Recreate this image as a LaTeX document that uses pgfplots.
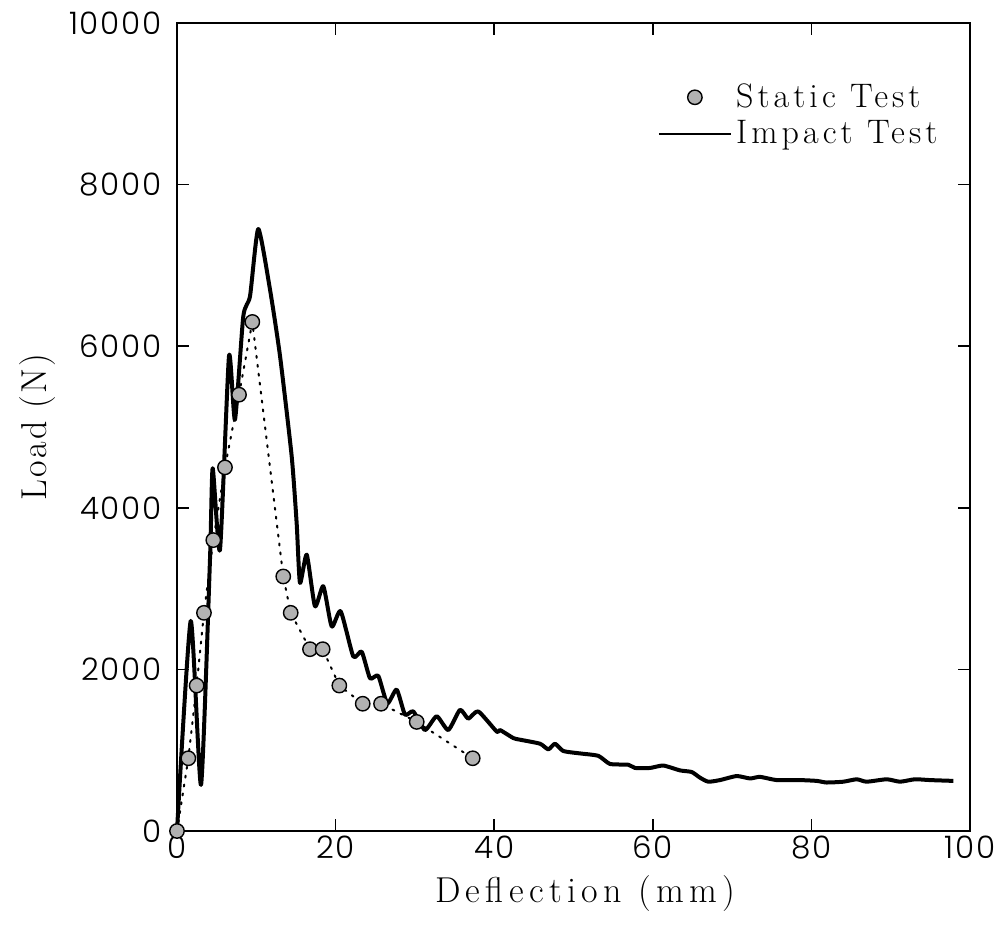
\documentclass[border=0pt]{standalone}
\usepackage{fontspec}
\usepackage{pgfplots}
\pgfplotsset{compat=1.18}
\setmainfont{Latin Modern Roman}
\IfFontExistsTF{Poppins Light}{\newfontfamily\tickfont{Poppins Light}[LetterSpace=6]}{\newfontfamily\tickfont{Poppins}[LetterSpace=6]}
\newfontfamily\xlabfont{Latin Modern Roman}[LetterSpace=15]
\newfontfamily\ylabfont{Latin Modern Roman}[LetterSpace=6]
\newfontfamily\legfont{Latin Modern Roman}[LetterSpace=12]
\pgfplotsset{
  impactleg/.style={legend image code/.code={\draw[##1, line width=1.2pt] (0pt,0pt) -- (36pt,0pt);}},
  staticleg/.style={legend image code/.code={\draw[##1] plot coordinates {(18pt,0pt)};}},
}
\begin{document}
\begin{tikzpicture}
\begin{axis}[name=ax, scale only axis, width=396.5pt, height=404pt,
  xmin=0, xmax=100, ymin=0, ymax=10000,
  xtick={0,20,...,100}, ytick={0,2000,...,10000},
  scaled y ticks=false, scaled x ticks=false,
  tick align=inside, major tick length=6pt, minor tick num=0,
  axis line style={line width=1.2pt}, tick style={line width=0.8pt, black},
  ticklabel style={font=\tickfont\fontsize{15.5}{18}\selectfont},
  yticklabel style={xshift=-4pt},
  xticklabel style={yshift=1pt},
  /pgf/number format/assume math mode=true,
  /pgf/number format/1000 sep={},
  xlabel={Deflection (mm)}, ylabel={Load (N)},
  xlabel style={font=\xlabfont\fontsize{18}{21}\selectfont,
    at={(axis description cs:0.515,-0.077)}, anchor=center},
  ylabel style={font=\ylabfont\fontsize{18}{21}\selectfont,
    at={(axis description cs:-0.1765,0.5)}, anchor=center},
  legend style={draw=none, fill=none, at={(0.972,0.935)}, anchor=north east,
    font=\legfont\fontsize{17}{20}\selectfont, row sep=1pt},
  legend cell align=left, reverse legend,
  clip=false,
]
% dotted connection of static points
\addplot[forget plot, black, line width=1pt, dash pattern=on 1pt off 3.5pt, line cap=round] coordinates {
(0,0) (1.43,900) (2.48,1800) (3.40,2700) (4.58,3600) (6.05,4500) (7.82,5400) (9.50,6300)
(13.40,3150) (14.34,2700) (16.77,2250) (18.37,2250) (20.47,1800) (23.42,1575) (25.73,1575)
(30.23,1350) (37.29,900)};
% impact test
\addplot[black, line width=2pt, line join=round, smooth, tension=0.35, impactleg] coordinates {
(0,0) (1.73,2600) (3.03,570) (4.16,3360) (4.50,4490) (5.42,3480) (6.56,5880) (7.31,5090)
(8.36,6370) (9.21,6620) (10.25,7450) (11.73,6700) (12.99,5880) (14.46,4640) (15.09,3810)
(15.51,3070) (16.36,3420) (17.40,2780) (18.45,3030) (19.51,2530) (20.64,2720) (22.23,2160)
(23.29,2220) (24.34,1890) (25.38,1920) (26.52,1580) (27.70,1750) (28.75,1440) (29.80,1480)
(31.27,1250) (32.75,1420) (34.21,1250) (35.69,1500) (36.73,1390) (37.99,1480) (40.32,1230)
(40.73,1250) (42.41,1150) (43.25,1130) (45.78,1080) (46.82,1010) (47.67,1080) (48.71,990)
(50.82,960) (53.13,930) (54.60,830) (56.91,820) (57.76,780) (59.65,780) (61.32,810)
(63.43,750) (64.91,730) (65.95,660) (67.00,610) (68.47,630) (70.58,680) (72.26,650)
(73.52,670) (75.62,630) (78.56,630) (80.67,620) (81.93,600) (84.02,610) (85.71,640)
(86.97,610) (89.50,640) (91.17,610) (93.06,640) (94.96,630) (97.90,620)};
\addlegendentry{Impact Test}
% static test markers
\addplot[only marks, mark=*, mark size=3.6pt,
  mark options={fill=gray!60, draw=black, line width=0.7pt}, staticleg] coordinates {
(0,0) (1.43,900) (2.48,1800) (3.40,2700) (4.58,3600) (6.05,4500) (7.82,5400) (9.50,6300)
(13.40,3150) (14.34,2700) (16.77,2250) (18.37,2250) (20.47,1800) (23.42,1575) (25.73,1575)
(30.23,1350) (37.29,900)};
\addlegendentry{Static Test}
\end{axis}
\path ([xshift=-88.5pt,yshift=-49.5pt]ax.south west) rectangle ([xshift=19pt,yshift=11.5pt]ax.north east);
\end{tikzpicture}
\end{document}
